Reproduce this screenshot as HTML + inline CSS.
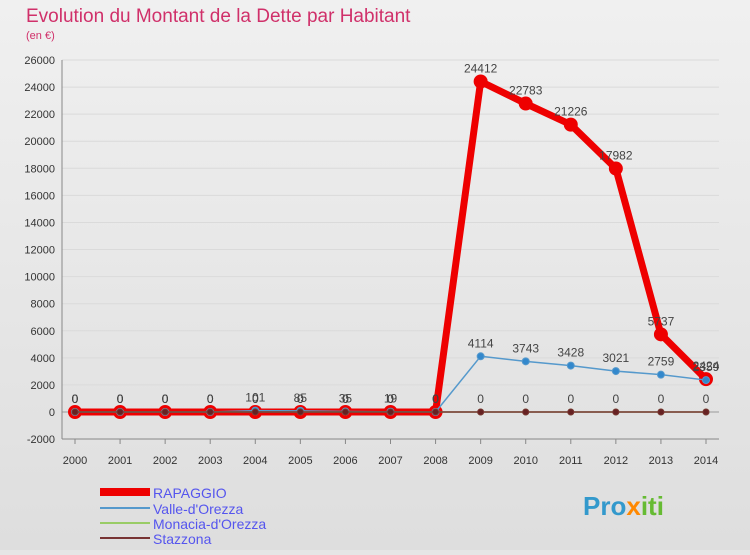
<!DOCTYPE html>
<html><head><meta charset="utf-8"><style>
body{margin:0;background:#e6e6e6;font-family:"Liberation Sans",sans-serif}
</style></head><body>
<svg width="750" height="550" xmlns="http://www.w3.org/2000/svg">
<defs><linearGradient id="bg" x1="0" y1="0" x2="0" y2="1"><stop offset="0" stop-color="#f0f0f0"/><stop offset="1" stop-color="#dedede"/></linearGradient></defs>
<rect width="750" height="550" fill="url(#bg)"/>
<text x="26" y="22" font-size="19" fill="#d0306a">Evolution du Montant de la Dette par Habitant</text>
<text x="26" y="39" font-size="11" fill="#d0306a">(en €)</text>
<g id="axes"></g><g id="series"></g>
<g>
<line x1="100" y1="492" x2="150" y2="492" stroke="#ee0000" stroke-width="8"/>
<text x="153" y="498" font-size="14" fill="#5555ee">RAPAGGIO</text>
<line x1="100" y1="508" x2="150" y2="508" stroke="#5599cc" stroke-width="2"/>
<text x="153" y="514" font-size="14" fill="#5555ee">Valle-d'Orezza</text>
<line x1="100" y1="523" x2="150" y2="523" stroke="#99cc66" stroke-width="2"/>
<text x="153" y="529" font-size="14" fill="#5555ee">Monacia-d'Orezza</text>
<line x1="100" y1="538" x2="150" y2="538" stroke="#773333" stroke-width="2"/>
<text x="153" y="544" font-size="14" fill="#5555ee">Stazzona</text>
</g>
<text x="583" y="515" font-size="26" font-weight="bold" fill="#3399cc">Pro<tspan fill="#ff8800">x</tspan><tspan fill="#66bb33">iti</tspan></text>
</svg>
<script>
const years=[2000,2001,2002,2003,2004,2005,2006,2007,2008,2009,2010,2011,2012,2013,2014];
const yTicks=[-2000,0,2000,4000,6000,8000,10000,12000,14000,16000,18000,20000,22000,24000,26000];
const rapaggio=[0,0,0,0,0,0,0,0,0,24412,22783,21226,17982,5737,2424];
const valle=[0,0,0,0,101,85,35,19,0,4114,3743,3428,3021,2759,2359];
const monacia=[0,0,0,0,0,0,0,0,0,0,0,0,0,0,0];
const stazzona=[0,0,0,0,0,0,0,0,0,0,0,0,0,0,0];
const NS="http://www.w3.org/2000/svg";
const x=i=>75+i*(706-75)/14;
const y=v=>412-v*(412-60)/26000;
function mk(t,a,p){const e=document.createElementNS(NS,t);for(const k in a)e.setAttribute(k,a[k]);(p||document.getElementById('series')).appendChild(e);return e;}
const ax=document.getElementById('axes');
yTicks.forEach(v=>{const l=mk('line',{x1:62,x2:719,y1:y(v),y2:y(v),stroke:v===0?'#999':'#dadada','stroke-width':1},ax);


const t=mk('text',{x:55,y:y(v)+4,'text-anchor':'end','font-size':11,fill:'#333'},ax);t.textContent=v;

});
mk('line',{x1:62,x2:62,y1:60,y2:439,stroke:'#888'},ax);
mk('line',{x1:62,x2:719,y1:439,y2:439,stroke:'#888'},ax);
years.forEach((yr,i)=>{const t=mk('text',{x:x(i),y:464,'text-anchor':'middle','font-size':11,fill:'#333'},ax);t.textContent=yr;


mk('line',{x1:x(i),x2:x(i),y1:439,y2:444,stroke:'#888'},ax);});
function series(d,name,color,w,r,fill,lab){
const pl=mk('polyline',{points:d.map((v,i)=>x(i)+','+y(v)).join(' '),fill:'none',stroke:color,'stroke-width':w,'stroke-linejoin':'round'});


d.forEach((v,i)=>{const c=mk('circle',{cx:x(i),cy:y(v),r:r,fill:fill,stroke:color,'stroke-width':w>3?2:1});


if(lab){const t=mk('text',{x:x(i),y:y(v)-9,'text-anchor':'middle','font-size':12,fill:'#444'});t.textContent=v;

}});}
series(rapaggio,'rapaggio','#ee0000',7,6,'#ee0000',true);
series(valle,'valle','#5599cc',1.5,3.5,'#3388cc',true);
series(monacia,'monacia','#99cc66',1.5,3,'#99cc66',false);
series(stazzona,'stazzona','#773333',1.5,3,'#662222',true);
</script>
</body></html>
